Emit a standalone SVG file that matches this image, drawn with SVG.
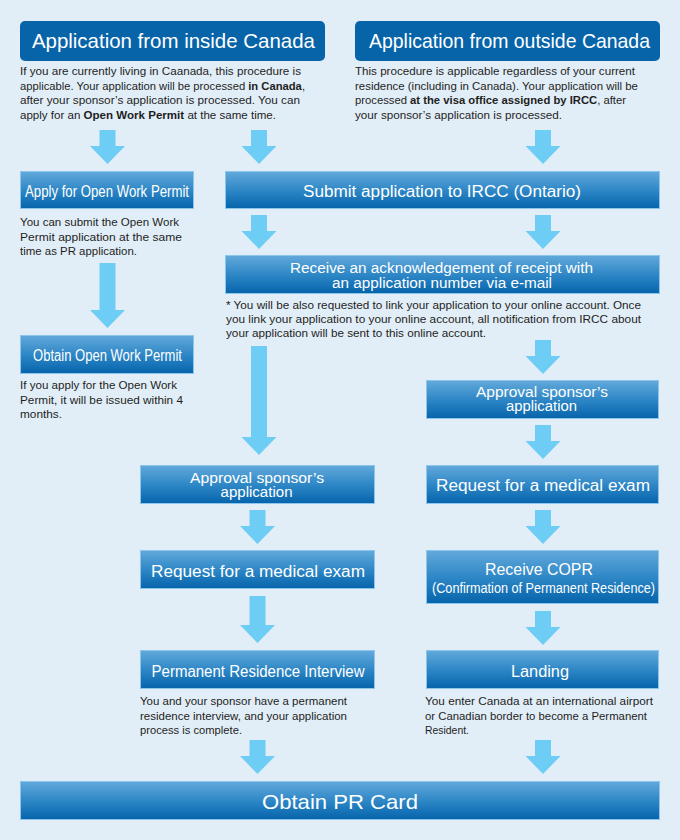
<svg xmlns="http://www.w3.org/2000/svg" width="680" height="840" viewBox="0 0 680 840">
<defs>
<linearGradient id="gb" x1="0" y1="0" x2="0" y2="1">
<stop offset="0" stop-color="#62a9db"/>
<stop offset="0.55" stop-color="#2a84c4"/>
<stop offset="1" stop-color="#0664ab"/>
</linearGradient>
<path id="arr" d="M-8,0 H8 V16 H17.5 L0,34 L-17.5,16 H-8 Z"/>
</defs>
<style>
.bg{fill:#e2eef7}
.hd{fill:#0864a9}
.bx{fill:url(#gb);stroke:#8cc6ec;stroke-width:1}
.ar{fill:#6dcdf5}
.t{font-family:"Liberation Sans",Arial,sans-serif;font-size:11.5px;fill:#1e1e1e}
.b{font-weight:bold}
.ht{font-family:"Liberation Sans",Arial,sans-serif;font-size:21px;fill:#fff;text-anchor:middle}
.lt{font-family:"Liberation Sans",Arial,sans-serif;font-size:16px;fill:#fff;text-anchor:middle}
.ls{font-family:"Liberation Sans",Arial,sans-serif;font-size:14px;fill:#fff;text-anchor:middle}
.lx{font-family:"Liberation Sans",Arial,sans-serif;font-size:14px;fill:#fff;text-anchor:middle}
</style>
<rect class="bg" x="0" y="0" width="680" height="840"/>

<g id="connectors">
<use href="#arr" class="ar" x="107.5" y="130"/>
<use href="#arr" class="ar" x="259" y="130"/>
<use href="#arr" class="ar" x="543" y="130"/>
<path class="ar" d="M99.5,263 H115.5 V310 H125 L107.5,328 L90,310 H99.5 Z"/>
<use href="#arr" class="ar" x="259" y="215"/>
<use href="#arr" class="ar" x="543" y="215"/>
<path class="ar" d="M251,346 H267 V437 H276.5 L259,455 L241.5,437 H251 Z"/>
<use href="#arr" class="ar" x="543" y="340"/>
<use href="#arr" class="ar" x="543" y="425"/>
<use href="#arr" class="ar" x="257.5" y="510"/>
<use href="#arr" class="ar" x="543" y="510"/>
<path class="ar" d="M249.5,596 H265.5 V625 H275 L257.5,643 L240,625 H249.5 Z"/>
<use href="#arr" class="ar" x="543" y="611"/>
<use href="#arr" class="ar" x="257.5" y="740"/>
<use href="#arr" class="ar" x="543" y="740"/>
</g>

<g id="inside">
<rect class="hd" x="20" y="21" width="305" height="40" rx="5"/>
<text class="ht" x="173.4" y="48" textLength="283" lengthAdjust="spacingAndGlyphs">Application from inside Canada</text>
<text class="t" x="20" y="75" textLength="281" lengthAdjust="spacingAndGlyphs">If you are currently living in Caanada, this procedure is</text>
<text class="t" x="20" y="89.5" textLength="285" lengthAdjust="spacingAndGlyphs">applicable. Your application will be processed <tspan class="b">in Canada</tspan>,</text>
<text class="t" x="20" y="104" textLength="280" lengthAdjust="spacingAndGlyphs">after your sponsor’s application is processed. You can</text>
<text class="t" x="20" y="118.5" textLength="256" lengthAdjust="spacingAndGlyphs">apply for an <tspan class="b">Open Work Permit</tspan> at the same time.</text>
</g>

<g id="outside">
<rect class="hd" x="355" y="21" width="305" height="40" rx="5"/>
<text class="ht" x="509.5" y="48" textLength="281" lengthAdjust="spacingAndGlyphs">Application from outside Canada</text>
<text class="t" x="355" y="75" textLength="280" lengthAdjust="spacingAndGlyphs">This procedure is applicable regardless of your current</text>
<text class="t" x="355" y="89.5" textLength="283" lengthAdjust="spacingAndGlyphs">residence (including in Canada). Your application will be</text>
<text class="t" x="355" y="104" textLength="271" lengthAdjust="spacingAndGlyphs">processed <tspan class="b">at the visa office assigned by IRCC</tspan>, after</text>
<text class="t" x="355" y="118.5" textLength="207" lengthAdjust="spacingAndGlyphs">your sponsor’s application is processed.</text>
</g>

<g id="apply-owp">
<rect class="bx" x="20.5" y="171.5" width="173" height="37"/>
<text class="lt" x="107" y="196.5" textLength="164" lengthAdjust="spacingAndGlyphs">Apply for Open Work Permit</text>
<text class="t" x="20" y="226" textLength="159" lengthAdjust="spacingAndGlyphs">You can submit the Open Work</text>
<text class="t" x="20" y="240.5" textLength="162" lengthAdjust="spacingAndGlyphs">Permit application at the same</text>
<text class="t" x="20" y="255" textLength="117" lengthAdjust="spacingAndGlyphs">time as PR application.</text>
</g>

<g id="submit">
<rect class="bx" x="225.5" y="171.5" width="434" height="37"/>
<text class="lt" x="442" y="196.5" textLength="278" lengthAdjust="spacingAndGlyphs">Submit application to IRCC (Ontario)</text>
</g>

<g id="receive-ack">
<rect class="bx" x="225.5" y="255.5" width="434" height="38"/>
<text class="ls" x="441.5" y="272.5" textLength="303" lengthAdjust="spacingAndGlyphs">Receive an acknowledgement of receipt with</text>
<text class="ls" x="442" y="288" textLength="220" lengthAdjust="spacingAndGlyphs">an application number via e-mail</text>
<text class="t" x="226" y="309" textLength="415" lengthAdjust="spacingAndGlyphs">* You will be also requested to link your application to your online account. Once</text>
<text class="t" x="226" y="323" textLength="415" lengthAdjust="spacingAndGlyphs">you link your application to your online account, all notification from IRCC about</text>
<text class="t" x="226" y="337" textLength="260" lengthAdjust="spacingAndGlyphs">your application will be sent to this online account.</text>
</g>

<g id="obtain-owp">
<rect class="bx" x="20.5" y="335.5" width="173" height="38"/>
<text class="lt" x="107.5" y="361" textLength="149" lengthAdjust="spacingAndGlyphs">Obtain Open Work Permit</text>
<text class="t" x="20" y="389" textLength="157" lengthAdjust="spacingAndGlyphs">If you apply for the Open Work</text>
<text class="t" x="20" y="403.5" textLength="163" lengthAdjust="spacingAndGlyphs">Permit, it will be issued within 4</text>
<text class="t" x="20" y="418" textLength="42" lengthAdjust="spacingAndGlyphs">months.</text>
</g>

<g id="approval-right">
<rect class="bx" x="426.5" y="380.5" width="232" height="38"/>
<text class="ls" x="542" y="396.5" textLength="132" lengthAdjust="spacingAndGlyphs">Approval sponsor’s</text>
<text class="ls" x="541.5" y="411" textLength="71" lengthAdjust="spacingAndGlyphs">application</text>
</g>

<g id="medical-right">
<rect class="bx" x="426.5" y="465.5" width="232" height="38"/>
<text class="lt" x="543" y="490.5" textLength="214" lengthAdjust="spacingAndGlyphs">Request for a medical exam</text>
</g>

<g id="approval-left">
<rect class="bx" x="140.5" y="465.5" width="234" height="38"/>
<text class="ls" x="257" y="482.5" textLength="134" lengthAdjust="spacingAndGlyphs">Approval sponsor’s</text>
<text class="ls" x="256.5" y="497" textLength="72" lengthAdjust="spacingAndGlyphs">application</text>
</g>

<g id="medical-left">
<rect class="bx" x="140.5" y="550.5" width="234" height="38"/>
<text class="lt" x="258" y="577" textLength="214" lengthAdjust="spacingAndGlyphs">Request for a medical exam</text>
</g>

<g id="copr">
<rect class="bx" x="426.5" y="550.5" width="232" height="53"/>
<text class="lt" x="539" y="575" textLength="108" lengthAdjust="spacingAndGlyphs">Receive COPR</text>
<text class="lx" x="543.5" y="593" textLength="223" lengthAdjust="spacingAndGlyphs">(Confirmation of Permanent Residence)</text>
</g>

<g id="interview">
<rect class="bx" x="140.5" y="650.5" width="234" height="38"/>
<text class="lt" x="258" y="677" textLength="213" lengthAdjust="spacingAndGlyphs">Permanent Residence Interview</text>
<text class="t" x="140" y="705" textLength="207" lengthAdjust="spacingAndGlyphs">You and your sponsor have a permanent</text>
<text class="t" x="140" y="719.5" textLength="207" lengthAdjust="spacingAndGlyphs">residence interview, and your application</text>
<text class="t" x="140" y="734" textLength="102" lengthAdjust="spacingAndGlyphs">process is complete.</text>
</g>

<g id="landing">
<rect class="bx" x="426.5" y="650.5" width="232" height="38"/>
<text class="lt" x="540" y="677" textLength="58" lengthAdjust="spacingAndGlyphs">Landing</text>
<text class="t" x="425" y="705" textLength="228" lengthAdjust="spacingAndGlyphs">You enter Canada at an international airport</text>
<text class="t" x="425" y="719.5" textLength="222" lengthAdjust="spacingAndGlyphs">or Canadian border to become a Permanent</text>
<text class="t" x="425" y="734" textLength="44" lengthAdjust="spacingAndGlyphs">Resident.</text>
</g>

<g id="pr-card">
<rect class="bx" x="20.5" y="781.5" width="639" height="38"/>
<text class="ht" x="340" y="809" textLength="156" lengthAdjust="spacingAndGlyphs">Obtain PR Card</text>
</g>
</svg>
